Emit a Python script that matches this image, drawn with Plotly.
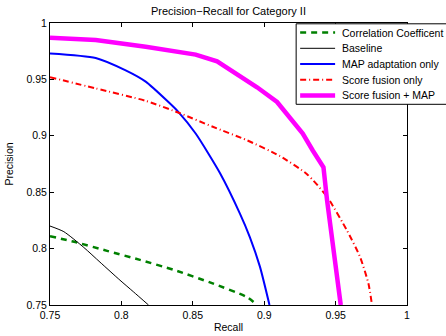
import plotly.graph_objects as go

# ---- data ----
corr_recall = [0.75, 0.767, 0.790, 0.813, 0.837, 0.862, 0.888, 0.895]
corr_prec = [0.811, 0.806, 0.798, 0.790, 0.781, 0.770, 0.757, 0.75]

base_recall = [0.75, 0.7597, 0.7737, 0.785, 0.799, 0.8086, 0.819]
base_prec = [0.820, 0.815, 0.801, 0.788, 0.772, 0.7615, 0.75]

map_recall = [0.75, 0.782, 0.803, 0.817, 0.832, 0.840, 0.852, 0.869, 0.883, 0.890, 0.897, 0.9037]
map_prec = [0.973, 0.969, 0.958, 0.948, 0.931, 0.921, 0.902, 0.867, 0.831, 0.810, 0.784, 0.75]

fus_recall = [0.75, 0.782, 0.817, 0.841, 0.864, 0.888, 0.911, 0.930, 0.944, 0.958, 0.967, 0.973, 0.9755]
fus_prec = [0.952, 0.942, 0.931, 0.920, 0.908, 0.896, 0.882, 0.866, 0.846, 0.816, 0.793, 0.769, 0.75]

fm_recall = [0.75, 0.782, 0.817, 0.852, 0.867, 0.881, 0.895, 0.909, 0.918, 0.927, 0.934, 0.9415, 0.944, 0.9485, 0.9536]
fm_prec = [0.987, 0.985, 0.979, 0.972, 0.966, 0.955, 0.943, 0.930, 0.916, 0.902, 0.887, 0.872, 0.843, 0.798, 0.75]

tick_vals = [0.75, 0.8, 0.85, 0.9, 0.95, 1.0]
tick_text = ["0.75", "0.8", "0.85", "0.9", "0.95", "1"]

series_names = ["Correlation Coefficent", "Baseline", "MAP adaptation only",
                "Score fusion only", "Score fusion + MAP"]

FONT = "Liberation Sans, Arial, Helvetica, sans-serif"

# styles
styles = [
    dict(color="#008000", width=2.5, dash="6px,5px"),
    dict(color="black", width=1),
    dict(color="#0000ff", width=2),
    dict(color="#ff0000", width=2, dash="6px,3px,1px,3px"),
    dict(color="#ff00ff", width=4.5),
]
shapes_of_lines = ["spline", "spline", "spline", "spline", "linear"]
series_x = [corr_recall, base_recall, map_recall, fus_recall, fm_recall]
series_y = [corr_prec, base_prec, map_prec, fus_prec, fm_prec]

fig = go.Figure()
for name, xs, ys, st, shp in zip(series_names, series_x, series_y, styles, shapes_of_lines):
    line = dict(st, shape=shp)
    if shp == "spline":
        line["smoothing"] = 0.6
    fig.add_trace(go.Scatter(x=xs, y=ys, mode="lines", name=name, line=line,
                             showlegend=False))

# ---- plot-area geometry (pixels) ----
W, H = 446, 336
ML, MR, MT, MB = 49.5, 39, 22.7, 31.3
PW, PH = W - ML - MR, H - MT - MB


def px_to_paper_x(px):
    return (px - ML) / PW


def px_to_paper_y(py):
    return 1 - (py - MT) / PH


# ---- legend drawn as shapes + text (compact MATLAB-style) ----
leg_left, leg_right, leg_top, leg_bottom = 296, 447, 23.5, 104
row_y0, row_step = 32.3, 15.7
shapes = [dict(type="rect", xref="paper", yref="paper", layer="above",
               x0=px_to_paper_x(leg_left), x1=px_to_paper_x(leg_right),
               y0=px_to_paper_y(leg_bottom), y1=px_to_paper_y(leg_top),
               fillcolor="white", line=dict(color="black", width=1))]
annotations = []
for i, (name, st) in enumerate(zip(series_names, styles)):
    yy = px_to_paper_y(row_y0 + i * row_step)
    shapes.append(dict(type="line", xref="paper", yref="paper", layer="above",
                       x0=px_to_paper_x(300), x1=px_to_paper_x(335), y0=yy, y1=yy,
                       line=st))
    annotations.append(dict(text=name, xref="paper", yref="paper", showarrow=False,
                            x=px_to_paper_x(340), y=yy, xanchor="left", yanchor="middle",
                            font=dict(family=FONT, size=10.5, color="black")))

axis_common = dict(
    tickvals=tick_vals, ticktext=tick_text, range=[0.75, 1.0],
    showgrid=False, zeroline=False, showline=True, linecolor="black", linewidth=1,
    mirror="ticks", ticks="inside", ticklen=4, tickcolor="black",
    tickfont=dict(family=FONT, size=10.5, color="black"),
)

fig.update_layout(
    width=W, height=H,
    margin=dict(l=ML, r=MR, t=MT, b=MB, autoexpand=False),
    paper_bgcolor="white", plot_bgcolor="white",
    font=dict(family=FONT, size=10.5, color="black"),
    title=dict(text="Precision\u2212Recall for Category II", x=0.5, xref="paper",
               xanchor="center", y=1 - 11 / H, yanchor="middle",
               font=dict(family=FONT, size=11, color="black")),
    xaxis=dict(title=dict(text="Recall", standoff=4, font=dict(size=10.5)), **axis_common),
    yaxis=dict(title=dict(text="Precision", standoff=10, font=dict(size=10.5)), **axis_common),
    shapes=shapes,
    annotations=annotations,
    showlegend=False,
)

fig.write_html("out.html", config={"displayModeBar": False},
               post_script="document.body.style.margin='0';document.body.style.padding='0';")
